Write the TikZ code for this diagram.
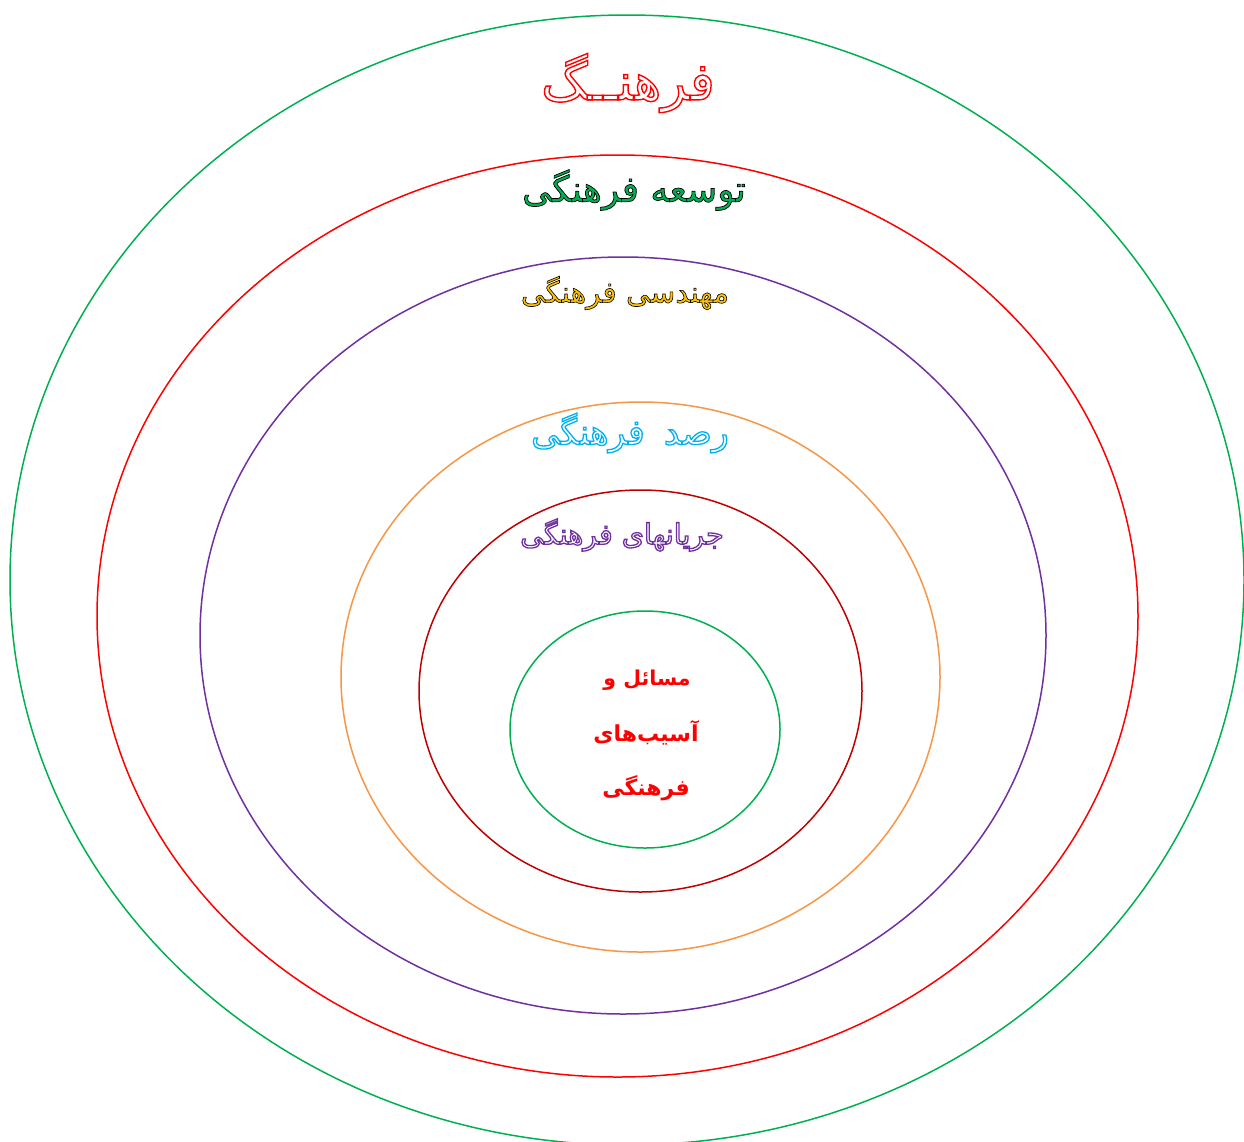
\documentclass[tikz,border=0pt]{standalone}
\usepackage{fontspec}
\TeXXeTstate=1
\newfontfamily\arabicfont[Script=Arabic]{DejaVu Sans}
\newfontfamily\arabicbold[Script=Arabic]{DejaVu Sans Bold}
\definecolor{cgreen}{HTML}{00B050}
\definecolor{cred}{HTML}{FF0000}
\definecolor{cpurple}{HTML}{7030A0}
\definecolor{corange}{HTML}{F79646}
\definecolor{cdarkred}{HTML}{C00000}
\definecolor{cgold}{HTML}{FFC000}
\definecolor{ccyan}{HTML}{00B0F0}
\newcommand\outlinetxt[2]{\special{pdf:literal direct #1}#2\special{pdf:literal direct 0 Tr 1 w}}
\tikzset{
  ring/.style={line width=1.5pt},
  lbl/.style={inner sep=0pt, font=\arabicfont},
}
\begin{document}
\begin{tikzpicture}[x=1pt,y=-1pt]
\useasboundingbox (0,0) rectangle (1244,1141);
\clip (0,0) rectangle (1244,1141);
\fill[white] (0,0) rectangle (1244,1141);
\draw[ring,cgreen] (627,580) ellipse [x radius=617, y radius=565];
\draw[ring,cred] (617.5,616) ellipse [x radius=520.5, y radius=461];
\draw[ring,cpurple] (623,635.5) ellipse [x radius=423, y radius=378.5];
\draw[ring,corange] (640.5,677) ellipse [x radius=299.5, y radius=275];
\draw[ring,cdarkred] (640.5,691) ellipse [x radius=221.5, y radius=201];
\draw[ring,cgreen] (645,729.5) ellipse [x radius=135, y radius=118.5];

\node[lbl, text=cred, font=\arabicfont\fontsize{52}{62}\selectfont] (t1) at (628,83) {\outlinetxt{1 Tr 1.4 w}{\beginR فرهنــگ\endR}};
\node[lbl, text=cgreen, font=\arabicfont\fontsize{36}{44}\selectfont] (t2) at (634,190) {\outlinetxt{0 0 0 RG 2 Tr 0.7 w}{\beginR توسعه فرهنگی\endR}};
\node[lbl, text=cgold, font=\arabicfont\fontsize{29.5}{36}\selectfont] (t3) at (625,293) {\outlinetxt{0 0 0 RG 2 Tr 0.6 w}{\beginR مهندسی فرهنگی\endR}};
\node[lbl, text=ccyan, font=\arabicfont\fontsize{35}{42}\selectfont] (t4) at (630,433) {\outlinetxt{1 Tr 1.3 w}{\beginR رصد\hspace{8pt} فرهنگی\endR}};
\node[lbl, text=cpurple, font=\arabicfont\fontsize{28.5}{36}\selectfont] (t5) at (622,535) {\outlinetxt{1 Tr 1.3 w}{\beginR جریانهای فرهنگی\endR}};

\node[lbl, text=cred, font=\arabicbold\fontsize{20.5}{26}\selectfont] (c1) at (647,680) {\beginR مسائل و\endR};
\node[lbl, text=cred, font=\arabicbold\fontsize{22}{28}\selectfont] (c2) at (646,733) {\beginR آسیب‌های\endR};
\node[lbl, text=cred, font=\arabicbold\fontsize{22}{28}\selectfont] (c3) at (646,788) {\beginR فرهنگی\endR};
\end{tikzpicture}
\end{document}
